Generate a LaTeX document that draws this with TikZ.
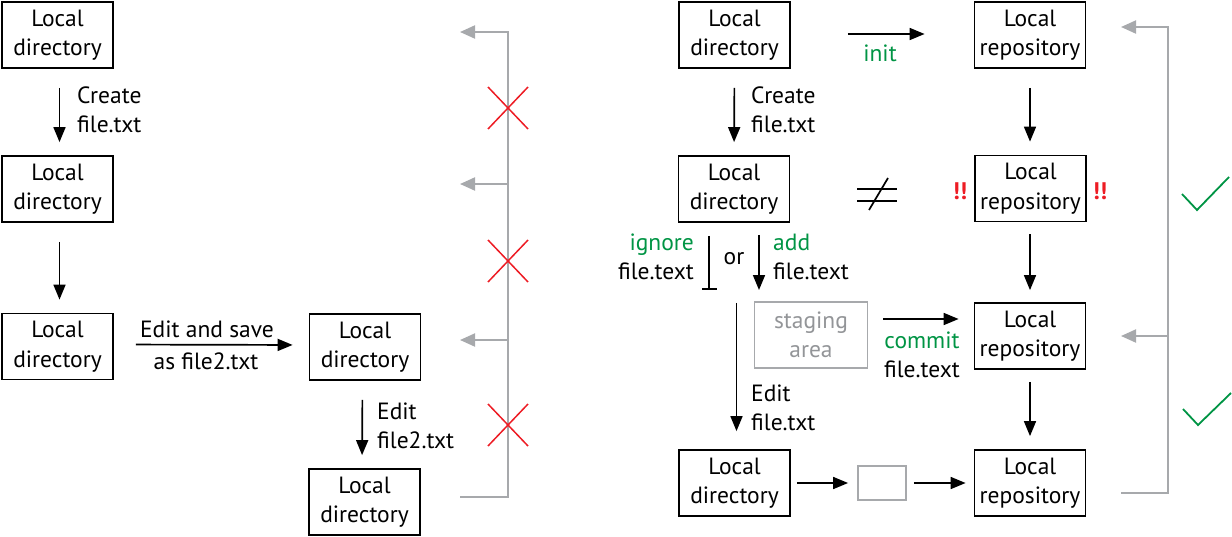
\documentclass[tikz,border=0pt]{standalone}
\usepackage{fontspec}
\setmainfont{PT Sans}
\usetikzlibrary{arrows.meta}
\definecolor{gitgreen}{HTML}{009444}
\definecolor{gitred}{HTML}{ED1C24}
\definecolor{gitgray}{HTML}{A7A9AC}
\definecolor{txtgray}{HTML}{939598}
\begin{document}
\begin{tikzpicture}[x=1pt,y=-1pt,
  every node/.style={font=\fontsize{23.5}{29.5}\selectfont, inner sep=0pt},
  box/.style={draw, line width=1.8pt, minimum width=111, minimum height=66, align=center},
  graybox/.style={draw=gitgray, line width=1.8pt, text=txtgray, align=center},
  flow/.style={line width=1.7pt, -{Triangle[length=15pt,width=12pt]}},
  backarrow/.style={draw=gitgray, line width=2pt, -{Triangle[length=15pt,width=13pt]}},
  lbl/.style={align=left, anchor=west},
  cross/.style={draw=gitred, line width=1.5pt},
  check/.style={draw=gitgreen, line width=1.8pt}
]
\useasboundingbox (0,0) rectangle (1232,536);

% ---------- left part ----------
\node[box] (l1) at (57.5,35) {Local\\directory};
\node[box] (l2) at (57.5,189) {Local\\directory};
\node[box] (l3) at (57.5,346.5) {Local\\directory};
\node[box] (l4) at (365,347) {Local\\directory};
\node[box] (l5) at (364.5,502) {Local\\directory};

\draw[flow, shorten <=19pt, shorten >=13pt] ([xshift=2pt]l1.south) -- ([xshift=2pt]l2.north);
\node[lbl] (t1) at (77,110) {Create\\file.txt};
\draw[flow, shorten <=19pt, shorten >=13pt] ([xshift=2pt]l2.south) -- ([xshift=2pt]l3.north);
\draw[flow, shorten <=22pt, shorten >=16pt] ([yshift=2pt]l3.east) -- ([yshift=2pt]l4.west);
\node (t2) at (207,329) {Edit and save};
\node (t3) at (206,361) {as file2.txt};
\draw[flow, shorten <=19pt, shorten >=13pt] ([xshift=-2.5pt]l4.south) -- ([xshift=-2.5pt]l5.north);
\node[lbl] (t4) at (377,426) {Edit\\file2.txt};

\coordinate (gl0) at (460,497);
\coordinate (gl1) at (508,32);
\coordinate (ga1) at (460,32);
\coordinate (gb2) at (508,184);
\coordinate (ga2) at (460,184);
\coordinate (gb3) at (508,340);
\coordinate (ga3) at (460,340);
\draw[backarrow] (gl0) -| (gl1) -- (ga1);
\draw[backarrow] (gb2) -- (ga2);
\draw[backarrow] (gb3) -- (ga3);

\foreach \cy in {108,261,425}{
  \draw[cross] (488,\cy-21) -- (528,\cy+21);
  \draw[cross] (488,\cy+21) -- (528,\cy-21);
}

% ---------- right part ----------
\node[box] (r1) at (734.5,35) {Local\\directory};
\node[box] (r2) at (1030,35) {Local\\repository};
\node[box] (r3) at (734,189) {Local\\directory};
\node[box] (r4) at (1030.5,188.5) {Local\\repository};
\node[graybox, minimum width=113, minimum height=66] (st) at (811,335) {staging\\area};
\node[box] (r5) at (1030,336) {Local\\repository};
\node[box] (r6) at (734.5,483) {Local\\directory};
\node[draw=gitgray, line width=1.8pt, minimum width=48, minimum height=34] (sm) at (882,483) {};
\node[box] (r7) at (1030,483) {Local\\repository};

\draw[flow, shorten <=57pt, shorten >=49pt] ([yshift=1pt]r1.east) -- ([yshift=1pt]r2.west);
\node[text=gitgreen] (init) at (880,53) {init};
\draw[flow, shorten <=19pt, shorten >=13pt] (r1.south) -- (r3.north);
\node[lbl] (t5) at (751,110) {Create\\file.txt};
\draw[flow, shorten <=19pt, shorten >=13pt] (r2.south) -- ([xshift=-0.5pt]r4.north);

% not equal sign
\draw[line width=1.7pt] (857,189) -- (897,189);
\draw[line width=1.7pt] (857,201) -- (897,201);
\draw[line width=1.7pt] (869,210) -- (888,178);
\node[text=gitred, font=\fontsize{24}{29}\selectfont\bfseries] (ex1) at (960,191) {!!};
\node[text=gitred, font=\fontsize{24}{29}\selectfont\bfseries] (ex2) at (1100,191) {!!};

% ignore / add
\coordinate (ig) at (709,290);
\draw[line width=1.7pt, -{Bar[width=15pt,line width=1.7pt]}, shorten <=13pt] ([xshift=-25pt]r3.south) -- (ig);
\node[align=right, anchor=east] (t6) at (694,257) {\textcolor{gitgreen}{ignore}\\file.text};
\node (or) at (734,259) {or};
\coordinate (ad) at (759,290);
\draw[flow, shorten <=12pt] ([xshift=25pt]r3.south) -- (ad);
\node[lbl] (t7) at (773,257) {\textcolor{gitgreen}{add}\\file.text};

\draw[flow, shorten <=12pt, shorten >=12pt] ([xshift=-0.5pt]r4.south) -- (r5.north);
\draw[flow, shorten <=15pt, shorten >=15pt] ([yshift=16pt]st.east) -- ([yshift=17pt]r5.west);
\node[align=center] (t8) at (922,355) {\textcolor{gitgreen}{commit}\\file.text};

\draw[flow, shorten <=80pt, shorten >=18pt] ([xshift=2.5pt]r3.south) -- ([xshift=2pt]r6.north);
\node[lbl] (t9) at (751,408) {Edit\\file.txt};

\draw[flow, shorten <=12pt, shorten >=13pt] (r5.south) -- (r7.north);
\draw[flow, shorten <=6pt, shorten >=9pt] (r6.east) -- (sm.west);
\draw[flow, shorten <=7pt, shorten >=8pt] (sm.east) -- (r7.west);

\coordinate (gr0) at (1121,493);
\coordinate (gr1) at (1168,27);
\coordinate (gra1) at (1121,27);
\coordinate (grb2) at (1168,336);
\coordinate (gra2) at (1121,336);
\draw[backarrow] (gr0) -| (gr1) -- (gra1);
\draw[backarrow] (grb2) -- (gra2);

\draw[check] (1182,194) -- (1197,210) -- (1229,177);
\draw[check] (1183,409) -- (1198,425) -- (1231,393);
\end{tikzpicture}
\end{document}
